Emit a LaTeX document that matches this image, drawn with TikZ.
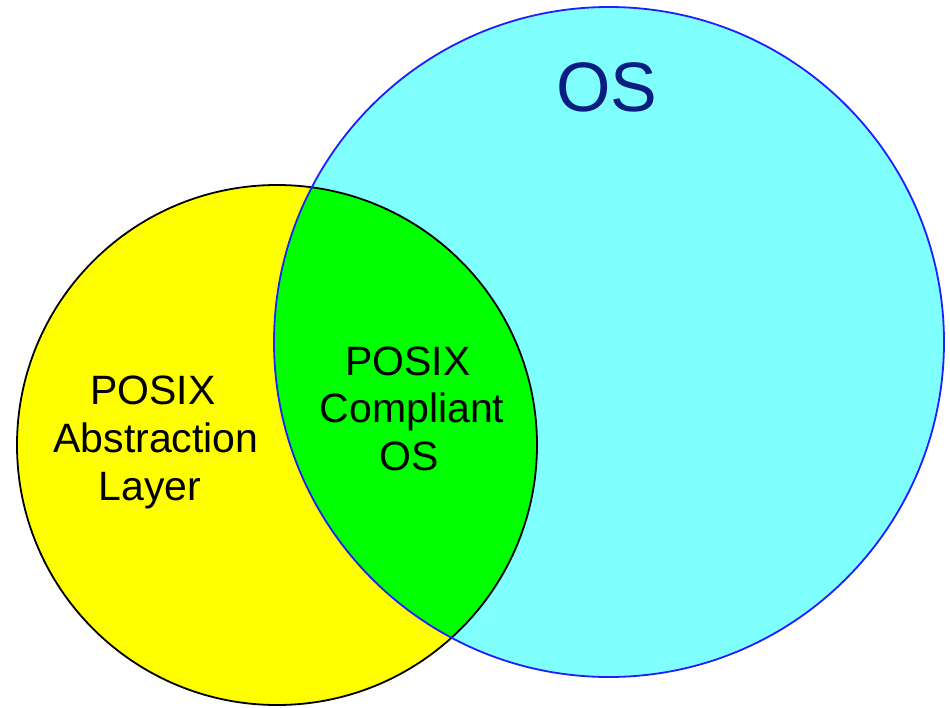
\documentclass[tikz,border=0pt]{standalone}
\usepackage{fontspec}
\setmainfont{Liberation Sans}
\definecolor{cyanfill}{RGB}{128,255,255}
\definecolor{blueedge}{RGB}{30,30,255}
\definecolor{yellowfill}{RGB}{255,255,0}
\definecolor{greenfill}{RGB}{0,255,0}
\definecolor{navytext}{RGB}{10,30,130}
\tikzset{
  lbl/.style={anchor=base, inner sep=0pt, font=\fontsize{41}{48}\selectfont, text=black},
  biglbl/.style={anchor=base, inner sep=0pt, font=\fontsize{70}{80}\selectfont, text=navytext}
}
\begin{document}
\begin{tikzpicture}[x=1pt,y=-1pt]
\useasboundingbox (0,0) rectangle (950,707);
\fill[white] (0,0) rectangle (950,707);
% fills
\fill[yellowfill] (277,445) circle (260);
\fill[cyanfill] (609,342) circle (335);
\begin{scope}
  \clip (277,445) circle (260);
  \fill[greenfill] (609,342) circle (335);
\end{scope}
% borders
\draw[black, line width=1.8pt] (277,445) circle (260);
\draw[blueedge, line width=1.8pt] (609,342) circle (335);
% labels
\node[biglbl] (os) at (607,111) {OS};
\node[lbl] (a1) at (153,404) {POSIX};
\node[lbl] (a2) at (156,452) {Abstraction};
\node[lbl] (a3) at (150,500) {Layer};
\node[lbl] (c1) at (408,375) {POSIX};
\node[lbl] (c2) at (412,422) {Compliant};
\node[lbl] (c3) at (409,470) {OS};
\end{tikzpicture}
\end{document}
